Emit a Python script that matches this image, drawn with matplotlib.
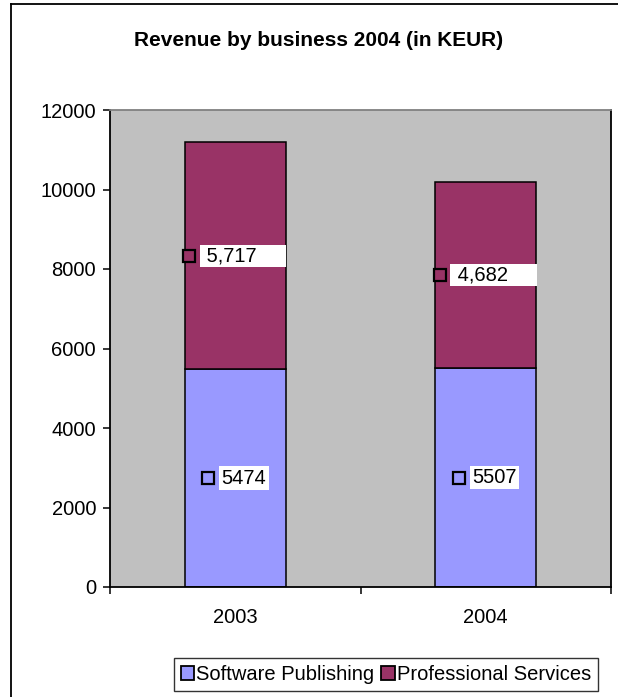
import matplotlib.pyplot as plt
from matplotlib.patches import Patch
from matplotlib.lines import Line2D

plt.rcParams['font.family'] = ['Liberation Sans', 'DejaVu Sans']

years = ["2003", "2004"]
software = [5474, 5507]
services = [5717, 4682]
service_labels = ["5,717", "4,682"]
soft_labels = ["5474", "5507"]
yticks = [0, 2000, 4000, 6000, 8000, 10000, 12000]

blue = "#9999FF"
maroon = "#993366"
W, H = 618, 697

fig = plt.figure(figsize=(W / 100, H / 100), dpi=100)
ax = fig.add_axes([110 / W, (H - 587) / H, 501 / W, 477 / H])
ax.set_facecolor("#C0C0C0")

x = range(len(years))
ax.bar(x, software, width=0.403, color=blue, edgecolor="black", linewidth=1.1)
ax.bar(x, services, width=0.403, bottom=software, color=maroon, edgecolor="black", linewidth=1.1)

# data labels: small square key + white box
for i in x:
    ym = software[i] + services[i] / 2
    ax.plot(i - 0.184, ym, marker="s", ms=9, mfc=maroon, mec="black", mew=1.6)
    ax.text(i - 0.136, ym, " " + service_labels[i] + "     ", fontsize=14.5, ha="left", va="center",
            bbox=dict(boxstyle="square,pad=0.07", fc="white", ec="none"))
    yb = software[i] / 2
    ax.plot(i - 0.108, yb, marker="s", ms=9, mfc=blue, mec="black", mew=1.6)
    ax.text(i - 0.055, yb, soft_labels[i], fontsize=14.5, ha="left", va="center",
            bbox=dict(boxstyle="square,pad=0.12", fc="white", ec="none"))

ax.set_xlim(-0.5, 1.5)
ax.set_ylim(0, 12000)
ax.set_yticks(yticks)
ax.set_yticklabels([str(v) for v in yticks])
ax.set_xticks([-0.5, 0.5, 1.5], minor=False)
ax.set_xticklabels([])
ax.set_xticks([0, 1], minor=True)
ax.set_xticklabels(years, minor=True)
ax.tick_params(axis="x", which="major", length=5, width=1.1, color="black")
ax.tick_params(axis="x", which="minor", length=0, labelsize=14.5, pad=15)
ax.tick_params(axis="y", length=5, width=1.1, labelsize=14.5, pad=5)

for s in ["left", "bottom", "right"]:
    ax.spines[s].set_color("black")
    ax.spines[s].set_linewidth(1.3)
ax.spines["top"].set_color("#808080")
ax.spines["top"].set_linewidth(1.3)

fig.text(319 / W, 1 - 40 / H, "Revenue by business 2004 (in KEUR)", fontsize=15,
         fontweight="bold", ha="center", va="center")

handles = [Patch(facecolor=blue, edgecolor="black", linewidth=1.3),
           Patch(facecolor=maroon, edgecolor="black", linewidth=1.3)]
leg = fig.legend(handles, ["Software Publishing", "Professional Services"], ncol=2,
                 loc="center", bbox_to_anchor=(386 / W, 1 - 674.5 / H), fontsize=14.5,
                 frameon=True, fancybox=False, edgecolor="black", handlelength=0.65,
                 handleheight=0.65, handletextpad=0.12, columnspacing=0.35,
                 borderpad=0.35, borderaxespad=0)
leg.get_frame().set_linewidth(1.0)

# outer chart border (cropped on right and bottom)
fig.add_artist(Line2D([11 / W, 11 / W], [0, 1 - 4 / H], color="black", lw=1.3))
fig.add_artist(Line2D([11 / W, 1], [1 - 4 / H, 1 - 4 / H], color="black", lw=1.3))

fig.savefig("out.png", dpi=100)
